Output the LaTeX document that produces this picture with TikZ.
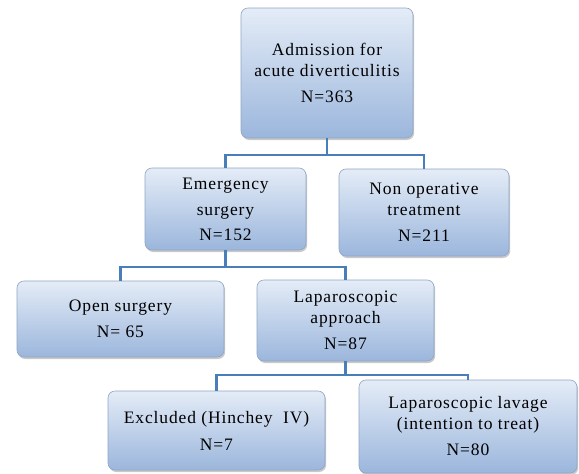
\documentclass[tikz,border=0pt]{standalone}
\usepackage{fontspec}
\setmainfont{Liberation Serif}[LetterSpace=5]
\usetikzlibrary{shadows}
\definecolor{lineblue}{HTML}{4A7EBB}
\definecolor{boxtop}{HTML}{E4ECF7}
\definecolor{boxbot}{HTML}{9BB6DC}
\definecolor{boxedge}{HTML}{8FA6C6}
\tikzset{
  flowbox/.style={draw=boxedge, line width=0.6pt, rounded corners=7pt,
    top color=boxtop, bottom color=boxbot, align=center, inner sep=0pt,
    font=\fontsize{17.5}{21}\selectfont,
    drop shadow={shadow xshift=1.2pt, shadow yshift=-2pt, opacity=0.35, fill=black!60}},
  conn/.style={draw=lineblue, line width=2.8pt}
}
\begin{document}
\begin{tikzpicture}[x=1pt,y=-1pt]
\useasboundingbox (0,0) rectangle (579,474);
\fill[white] (0,0) rectangle (579,474);
% boxes
\node[flowbox, minimum width=172pt, minimum height=130pt] (top) at (327,73)
  {Admission for\\acute diverticulitis\\[5pt]N=363};
\node[flowbox, minimum width=161pt, minimum height=82pt] (emerg) at (225.5,209)
  {Emergency\\[5pt]surgery\\[4pt]N=152};
\node[flowbox, minimum width=170pt, minimum height=87pt] (nonop) at (424,212.5)
  {Non operative\\treatment\\[5pt]N=211};
\node[flowbox, minimum width=207pt, minimum height=76pt] (open) at (120.5,319)
  {Open surgery\\[5pt]N= 65};
\node[flowbox, minimum width=177pt, minimum height=81pt] (lap) at (345.5,320.5)
  {Laparoscopic\\approach\\[5pt]N=87};
\node[flowbox, minimum width=217pt, minimum height=79pt] (excl) at (216.5,430.5)
  {Excluded (Hinchey~ IV)\\[6pt]N=7};
\node[flowbox, minimum width=218pt, minimum height=93pt] (lav) at (468,426.5)
  {Laparoscopic lavage\\(intention to treat)\\[5pt]N=80};
% connectors
\coordinate (j1) at (top.south |- 0,155);
\coordinate (j2) at (emerg.south |- 0,267);
\coordinate (j3) at (lap.south |- 0,375);
\draw[conn] (top.south) -- (j1) -| (emerg.north);
\draw[conn] (j1) -| (nonop.north);
\draw[conn] (emerg.south) -- (j2) -| (open.north);
\draw[conn] (j2) -| (lap.north);
\draw[conn] (lap.south) -- (j3) -| (excl.north);
\draw[conn] (j3) -| (lav.north);
\end{tikzpicture}
\end{document}
